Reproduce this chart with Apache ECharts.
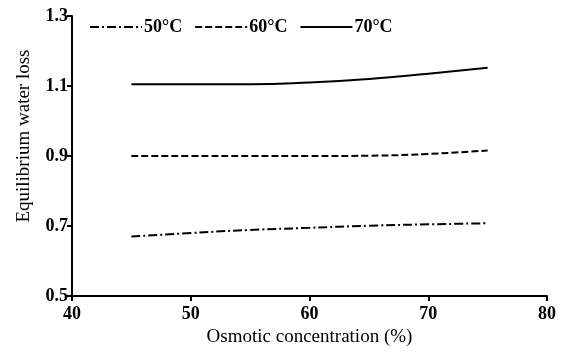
<!DOCTYPE html>
<html>
<head>
<meta charset="utf-8">
<script src="https://cdn.jsdelivr.net/npm/echarts@6/dist/echarts.min.js"></script>
<style>
  html, body { margin: 0; padding: 0; background: #fff; }
  #chart { width: 572px; height: 352px; }
</style>
</head>
<body>
<div id="chart"></div>
<script>
// osmotic concentration (%)
const concentration = [45, 50, 55, 60, 65, 70, 75];
const loss50 = [0.670, 0.680, 0.689, 0.695, 0.701, 0.705, 0.708];
const loss60 = [0.900, 0.900, 0.900, 0.900, 0.901, 0.906, 0.916];
const loss70 = [1.105, 1.105, 1.105, 1.110, 1.120, 1.135, 1.152];
const seriesNames = ['50°C', '60°C', '70°C'];

const font = 'Liberation Serif, Times New Roman, serif';
const pairs = ys => concentration.map((x, i) => [x, ys[i]]);

const chart = echarts.init(document.getElementById('chart'));

const axisCommon = {
  axisLine: { lineStyle: { color: '#000', width: 2 } },
  axisTick: { show: true, length: 5, lineStyle: { color: '#000', width: 2 } },
  splitLine: { show: false },
  axisLabel: { color: '#000', fontFamily: font, fontWeight: 'bold', fontSize: 18 },
  nameTextStyle: { color: '#000', fontFamily: font, fontSize: 19 },
};

chart.setOption({
  backgroundColor: '#fff',
  animation: false,
  grid: { left: 72, right: 25, top: 16, bottom: 55 },
  legend: {
    left: 84, top: 13,
    itemWidth: 52, itemHeight: 12, itemGap: 12,
    itemStyle: { opacity: 0 },
    textStyle: { color: '#000', fontFamily: font, fontWeight: 'bold', fontSize: 18, padding: [0, 0, 0, -3] },
    data: seriesNames,
  },
  xAxis: {
    ...axisCommon,
    type: 'value', min: 40, max: 80, interval: 10,
    name: 'Osmotic concentration (%)', nameLocation: 'middle', nameGap: 30,
    axisLabel: { ...axisCommon.axisLabel, margin: 9 },
  },
  yAxis: {
    ...axisCommon,
    type: 'value', min: 0.5, max: 1.3, interval: 0.2,
    name: 'Equilibrium water loss', nameLocation: 'middle', nameGap: 38,
    nameTextStyle: { ...axisCommon.nameTextStyle, padding: [0, 0, 0, 40] },
    axisLabel: { ...axisCommon.axisLabel, margin: 4, formatter: v => v.toFixed(1) },
  },
  series: [
    { name: seriesNames[0], type: 'line', smooth: true, symbol: 'none', data: pairs(loss50),
      itemStyle: { color: '#000' },
      lineStyle: { color: '#000', width: 2, type: [9, 3, 2, 3] } },
    { name: seriesNames[1], type: 'line', smooth: true, symbol: 'none', data: pairs(loss60),
      itemStyle: { color: '#000' },
      lineStyle: { color: '#000', width: 2, type: [7, 3] } },
    { name: seriesNames[2], type: 'line', smooth: true, symbol: 'none', data: pairs(loss70),
      itemStyle: { color: '#000' },
      lineStyle: { color: '#000', width: 2, type: 'solid' } },
  ],
});
</script>
</body>
</html>
